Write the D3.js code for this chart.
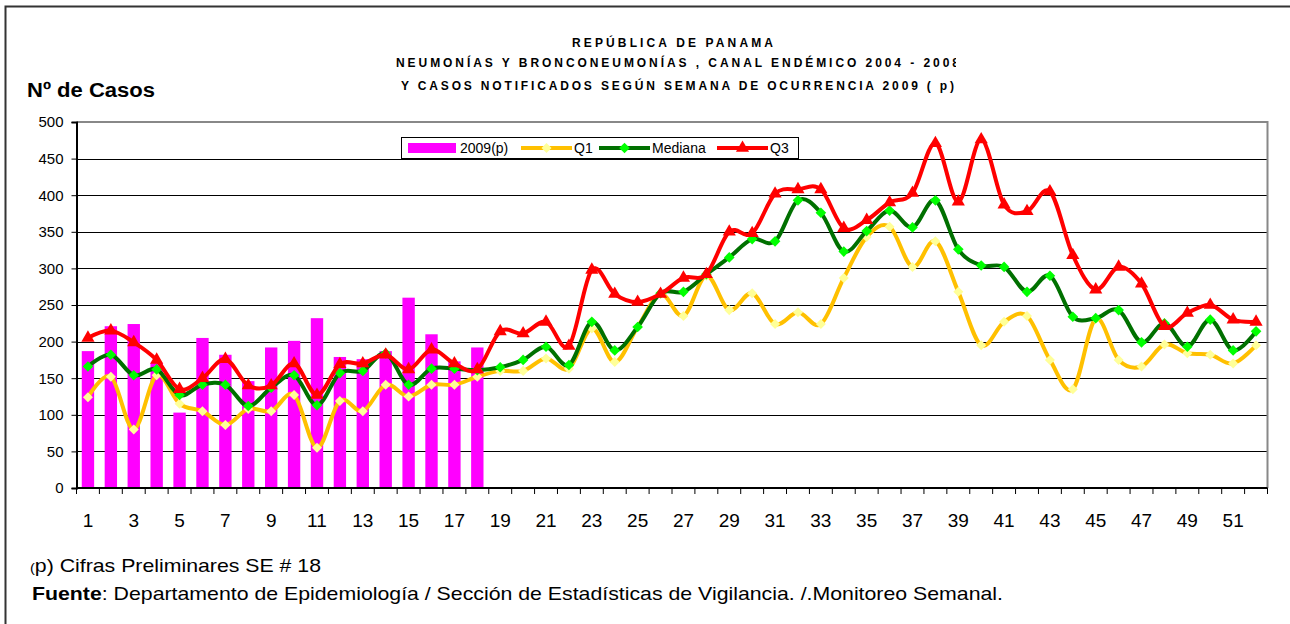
<!DOCTYPE html>
<html>
<head>
<meta charset="utf-8">
<script src="https://cdn.jsdelivr.net/npm/d3@7/dist/d3.min.js"></script>
<style>
  html, body { margin: 0; padding: 0; background: #fff; }
  svg { display: block; }
</style>
</head>
<body>
<svg id="chart" width="1290" height="624"></svg>
<script>
// ---------- DATA ----------
const weeks = d3.range(1, 53);
const yTicks = [0, 50, 100, 150, 200, 250, 300, 350, 400, 450, 500];
const cases2009 = [187, 221, 224, 171, 103, 205, 182, 146, 192, 201, 232, 179, 176, 187, 260, 210, 173, 192];
const q1 = [124, 152, 80, 154, 115, 105, 86, 108, 105, 127, 55, 119, 105, 141, 125, 141, 141, 152,
            160, 160, 177, 163, 218, 172, 220, 265, 235, 290, 243, 266, 224, 240, 224, 287, 343,
            357, 302, 337, 268, 195, 227, 235, 175, 135, 231, 175, 166, 196, 184, 182, 170, 195];
const mediana = [166, 182, 154, 162, 127, 141, 141, 112, 137, 154, 113, 157, 160, 184, 141, 163, 163, 161,
                 165, 175, 193, 168, 227, 188, 220, 266, 268, 292, 315, 340, 337, 393, 376, 323, 351,
                 379, 356, 393, 326, 304, 302, 268, 290, 234, 232, 243, 199, 225, 193, 230, 188, 214];
const q3 = [205, 215, 199, 175, 135, 150, 176, 140, 140, 170, 127, 169, 170, 182, 162, 189, 170, 162,
            214, 211, 227, 194, 298, 265, 254, 265, 287, 292, 350, 348, 402, 408, 408, 355, 366,
            390, 403, 471, 391, 476, 387, 378, 405, 318, 271, 302, 279, 221, 239, 250, 230, 227];
const titleLines = ["REPÚBLICA DE PANAMA",
                    "NEUMONÍAS Y BRONCONEUMONÍAS , CANAL ENDÉMICO 2004 - 2008",
                    "Y CASOS NOTIFICADOS SEGÚN SEMANA DE OCURRENCIA 2009 ( p)"];
const legendLabels = ["2009(p)", "Q1", "Mediana", "Q3"];

// ---------- LAYOUT ----------
const svg = d3.select("#chart");
const L = 76.5, R = 1267.5, T = 122, B = 488;

const x = d3.scaleBand().domain(weeks).range([L, R]).padding(0);
const xBar = d3.scaleBand().domain(weeks).range([L, R]).paddingInner(0.46).paddingOuter(0.23);
const y = d3.scaleLinear().domain([0, 500]).range([B, T]);

// outer frame
svg.append("path").attr("d", "M5.5,640 L5.5,6.5 L1295,6.5")
  .attr("fill", "none").attr("stroke", "#333").attr("stroke-width", 2);

// titles
const sans = "'Liberation Sans',Arial,sans-serif";
svg.append("clipPath").attr("id", "tclip").append("rect")
  .attr("x", 300).attr("y", 20).attr("width", 656).attr("height", 80);
const tg = svg.append("g").attr("clip-path", "url(#tclip)")
  .attr("font-family", sans).attr("font-weight", "bold").attr("font-size", 12);
const tSpec = [{x: 572, yb: 47, len: 201}, {x: 396, yb: 67, len: 563}, {x: 401, yb: 90, len: 553}];
titleLines.forEach((t, i) => {
  tg.append("text").attr("x", tSpec[i].x).attr("y", tSpec[i].yb)
    .attr("textLength", tSpec[i].len).attr("lengthAdjust", "spacing").text(t);
});

svg.append("text").attr("x", 27).attr("y", 97)
  .attr("font-family", sans).attr("font-weight", "bold").attr("font-size", 20)
  .attr("textLength", 128).attr("lengthAdjust", "spacingAndGlyphs")
  .text("Nº de Casos");

// gridlines
svg.append("g").selectAll("line").data(yTicks.filter(d => d > 0 && d < 500)).join("line")
  .attr("x1", L).attr("x2", R).attr("y1", d => Math.round(y(d)) + 0.5).attr("y2", d => Math.round(y(d)) + 0.5)
  .attr("stroke", "#000").attr("stroke-width", 1);

// plot border (top/right)
svg.append("path").attr("d", `M${L},${T} L${R},${T} L${R},${B}`)
  .attr("fill", "none").attr("stroke", "#888").attr("stroke-width", 2);

// y axis
const yAxis = d3.axisLeft(y).tickValues(yTicks).tickSize(5).tickPadding(8);
const gy = svg.append("g").attr("transform", `translate(${L},0)`).call(yAxis);
gy.select(".domain").attr("stroke", "#000").attr("stroke-width", 2);
gy.selectAll(".tick line").attr("stroke", "#000");
gy.selectAll(".tick text").attr("font-family", sans).attr("font-size", 15).attr("fill", "#000");

// bars
svg.append("g").selectAll("rect").data(cases2009).join("rect")
  .attr("x", (d, i) => xBar(weeks[i])).attr("width", xBar.bandwidth())
  .attr("y", d => y(d)).attr("height", d => B - y(d))
  .attr("fill", "#FF00FF");

// x axis
const gx = svg.append("g").attr("transform", `translate(0,${B})`);
gx.append("line").attr("x1", L).attr("x2", R).attr("stroke", "#000").attr("stroke-width", 2);
const boundaries = weeks.map(w => x(w)).concat([R]);
gx.selectAll("line.tk").data(boundaries).join("line").attr("class", "tk")
  .attr("x1", d => d).attr("x2", d => d).attr("y1", 0).attr("y2", 6)
  .attr("stroke", "#000").attr("stroke-width", 1);
gx.selectAll("text").data(weeks.filter(w => w % 2 === 1)).join("text")
  .attr("x", d => x(d) + x.bandwidth() / 2).attr("y", 39)
  .attr("text-anchor", "middle").attr("font-family", sans).attr("font-size", 19)
  .text(d => d);

// series
const curve = d3.curveCardinal.tension(0);
const line = d3.line().x((d, i) => x(weeks[i]) + x.bandwidth() / 2).y(d => y(d)).curve(curve);
const diamond = d3.symbol().type(d3.symbolDiamond2);
const tri = d3.symbol().type(d3.symbolTriangle);

function drawSeries(data, color, width, markerFill, sym, size) {
  const g = svg.append("g");
  g.append("path").datum(data).attr("d", line)
    .attr("fill", "none").attr("stroke", color).attr("stroke-width", width)
    .attr("stroke-linejoin", "round").attr("stroke-linecap", "round");
  g.selectAll("path.m").data(data).join("path").attr("class", "m")
    .attr("transform", (d, i) => `translate(${x(weeks[i]) + x.bandwidth() / 2},${y(d)})`)
    .attr("d", sym.size(size)).attr("fill", markerFill);
}
drawSeries(q1, "#FFC000", 4, "#FFFF99", diamond, 64);
drawSeries(mediana, "#007000", 4, "#00FF00", diamond, 72);
drawSeries(q3, "#FF0000", 4, "#FF0000", tri, 75);

// legend
const lg = svg.append("g");
lg.append("rect").attr("x", 401.5).attr("y", 137.5).attr("width", 397).attr("height", 21)
  .attr("fill", "#fff").attr("stroke", "#000").attr("stroke-width", 1);
const ly = 148;
lg.append("rect").attr("x", 408).attr("y", ly - 5).attr("width", 48).attr("height", 10).attr("fill", "#FF00FF");
const lSpec = [
  {x1: 521, x2: 572, c: "#FFC000", f: "#FFFF99", s: diamond, sz: 64},
  {x1: 599, x2: 650, c: "#007000", f: "#00FF00", s: diamond, sz: 72},
  {x1: 717, x2: 768, c: "#FF0000", f: "#FF0000", s: tri, sz: 75}
];
lSpec.forEach(s => {
  lg.append("line").attr("x1", s.x1).attr("x2", s.x2).attr("y1", ly).attr("y2", ly)
    .attr("stroke", s.c).attr("stroke-width", 4);
  lg.append("path").attr("transform", `translate(${(s.x1 + s.x2) / 2},${ly})`)
    .attr("d", s.s.size(s.sz)).attr("fill", s.f);
});
const lTextX = [460, 574, 652, 770];
legendLabels.forEach((t, i) => {
  lg.append("text").attr("x", lTextX[i]).attr("y", ly + 5)
    .attr("font-family", sans).attr("font-size", 14).text(t);
});

// footer
const f1 = svg.append("text").attr("x", 30).attr("y", 572)
  .attr("font-family", sans).attr("font-size", 19)
  .attr("textLength", 291).attr("lengthAdjust", "spacingAndGlyphs");
f1.append("tspan").attr("font-size", 13).text("(");
f1.append("tspan").text("p) Cifras Preliminares SE # 18");

const f2 = svg.append("text").attr("x", 32).attr("y", 600)
  .attr("font-family", sans).attr("font-size", 19)
  .attr("textLength", 971).attr("lengthAdjust", "spacingAndGlyphs");
f2.append("tspan").attr("font-weight", "bold").text("Fuente");
f2.append("tspan").text(": Departamento de Epidemiología / Sección de Estadísticas de Vigilancia. /.Monitoreo Semanal.");
</script>
</body>
</html>
